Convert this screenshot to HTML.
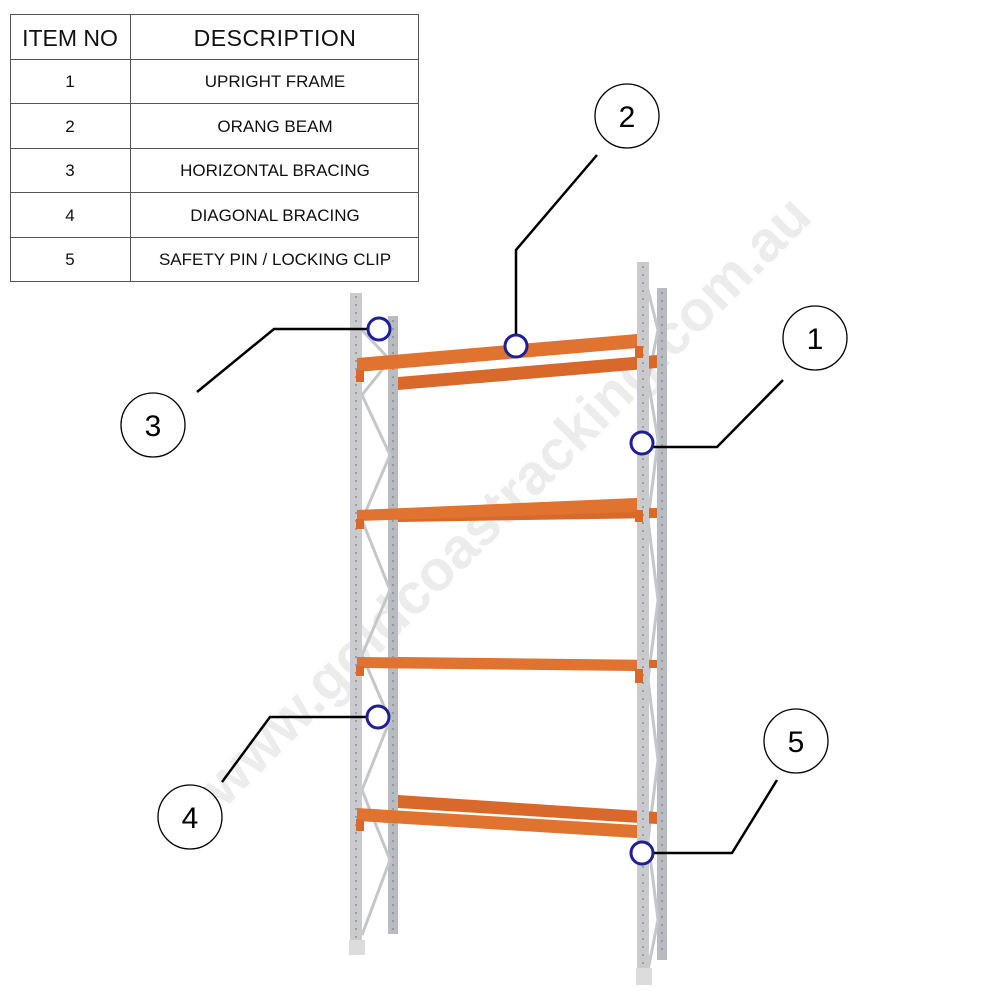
<!DOCTYPE html>
<html><head><meta charset="utf-8"><style>
html,body{margin:0;padding:0;background:#fff;}
svg{display:block;}
</style></head><body>
<svg width="1000" height="1000" viewBox="0 0 1000 1000" xmlns="http://www.w3.org/2000/svg" font-family="Liberation Sans, sans-serif">
<rect width="1000" height="1000" fill="#fff"/>
<!-- watermark -->
<text x="505" y="520" transform="rotate(-45 505 500)" text-anchor="middle" font-size="57" font-weight="bold" fill="#ececec">www.goldcoastracking.com.au</text>

<!-- back uprights -->
<rect x="388" y="316" width="10" height="618" fill="#b8bcc0"/>
<rect x="657" y="288" width="10" height="672" fill="#b8bcc0"/>
<g stroke="#c4c7ca" stroke-width="3" fill="none">
<polyline points="362,330 390,360 362,395 390,455 362,520 390,590 362,655 390,720 362,790 390,860 362,935"/>
<polyline points="648,290 658,330 648,380 658,440 648,520 658,600 648,680 658,760 648,840 658,920 648,970"/>
</g>
<!-- back beams -->
<polygon points="398,377 657,355 657,368 398,390" fill="#d9692a"/>
<polygon points="398,512 657,508 657,518 398,522" fill="#d9692a"/>
<polygon points="398,657 657,660 657,668 398,665" fill="#d9692a"/>
<polygon points="398,795 657,812 657,824 398,808" fill="#d9692a"/>
<!-- front uprights -->
<rect x="350" y="293" width="12" height="650" fill="#c9cbce"/>
<rect x="349" y="940" width="16" height="15" fill="#dcdcdc"/>
<rect x="637" y="262" width="12" height="710" fill="#c9cbce"/>
<rect x="636" y="968" width="16" height="17" fill="#dcdcdc"/>
<g stroke="#8a8e92" stroke-width="1.5" stroke-dasharray="2 6">
<line x1="356" y1="296" x2="356" y2="940"/>
<line x1="393" y1="320" x2="393" y2="930"/>
<line x1="643" y1="266" x2="643" y2="968"/>
<line x1="662" y1="292" x2="662" y2="955"/>
</g>
<!-- front beams -->
<polygon points="357,358 637,334 637,348 357,372" fill="#e0732f"/>
<polygon points="357,510 637,498 637,512 357,521" fill="#e0732f"/>
<polygon points="357,657 637,660 637,671 357,668" fill="#e0732f"/>
<polygon points="357,808 637,825 637,838 357,821" fill="#e0732f"/>
<g fill="#d9692a">
<rect x="356" y="370" width="8" height="12"/><rect x="635" y="346" width="8" height="12"/>
<rect x="356" y="519" width="8" height="10"/><rect x="635" y="510" width="8" height="12"/>
<rect x="356" y="666" width="8" height="10"/><rect x="635" y="669" width="8" height="14"/>
<rect x="356" y="819" width="8" height="12"/>
</g>

<!-- leader lines -->
<g stroke="#000" stroke-width="2.5" fill="none">
<polyline points="516,335 516,250 597,155"/>
<polyline points="653,447 717,447 783,380"/>
<polyline points="368,329 274,329 197,392"/>
<polyline points="367,717 270,717 222,782"/>
<polyline points="653,853 732,853 777,780"/>
</g>
<g stroke="#1f1f96" stroke-width="3" fill="#fff">
<circle cx="379" cy="329" r="11"/>
<circle cx="516" cy="346" r="11"/>
<circle cx="642" cy="443" r="11"/>
<circle cx="378" cy="717" r="11"/>
<circle cx="642" cy="853" r="11"/>
</g>
<g stroke="#000" stroke-width="1.3" fill="#fff">
<circle cx="627" cy="116" r="32"/>
<circle cx="815" cy="338" r="32"/>
<circle cx="153" cy="425" r="32"/>
<circle cx="190" cy="817" r="32"/>
<circle cx="796" cy="741" r="32"/>
</g>
<g font-size="30" fill="#000" text-anchor="middle">
<text x="627" y="127">2</text>
<text x="815" y="349">1</text>
<text x="153" y="436">3</text>
<text x="190" y="828">4</text>
<text x="796" y="752">5</text>
</g>

<!-- table -->
<g stroke="#555" stroke-width="1" fill="none">
<rect x="10.5" y="14.5" width="408" height="267"/>
<line x1="130.5" y1="14" x2="130.5" y2="281"/>
<line x1="10" y1="59.5" x2="419" y2="59.5"/>
<line x1="10" y1="103.5" x2="419" y2="103.5"/>
<line x1="10" y1="148.5" x2="419" y2="148.5"/>
<line x1="10" y1="192.5" x2="419" y2="192.5"/>
<line x1="10" y1="237.5" x2="419" y2="237.5"/>
</g>
<g fill="#111" text-anchor="middle">
<text x="70" y="46" font-size="23">ITEM NO</text>
<text x="275" y="46" font-size="23" letter-spacing="0.5">DESCRIPTION</text>
<g font-size="17">
<text x="70" y="87">1</text><text x="275" y="87">UPRIGHT FRAME</text>
<text x="70" y="132">2</text><text x="275" y="132">ORANG BEAM</text>
<text x="70" y="176">3</text><text x="275" y="176">HORIZONTAL BRACING</text>
<text x="70" y="221">4</text><text x="275" y="221">DIAGONAL BRACING</text>
<text x="70" y="265">5</text><text x="275" y="265">SAFETY PIN / LOCKING CLIP</text>
</g>
</g>
</svg>
</body></html>
